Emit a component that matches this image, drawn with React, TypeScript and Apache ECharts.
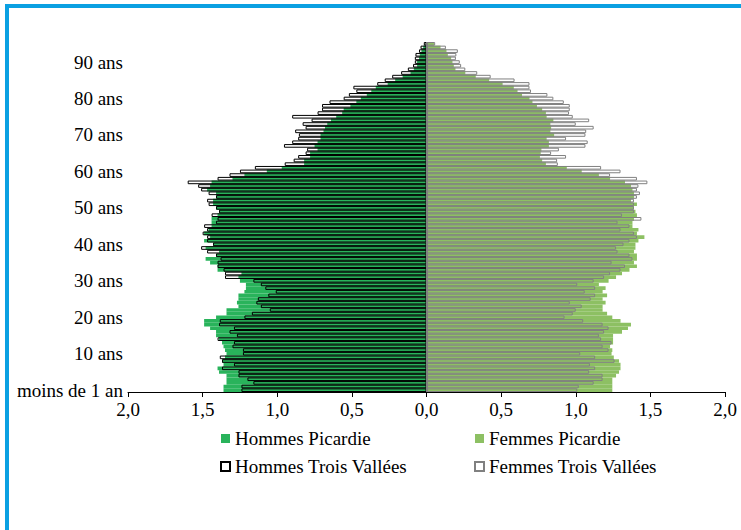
import React, { useEffect, useRef } from "react";
import * as echarts from "echarts";

// Ages 0..95 (category axis, bottom to top)
const ages: string[] = [
  "0","1","2","3","4","5","6","7","8","9",
  "10","11","12","13","14","15","16","17","18","19",
  "20","21","22","23","24","25","26","27","28","29",
  "30","31","32","33","34","35","36","37","38","39",
  "40","41","42","43","44","45","46","47","48","49",
  "50","51","52","53","54","55","56","57","58","59",
  "60","61","62","63","64","65","66","67","68","69",
  "70","71","72","73","74","75","76","77","78","79",
  "80","81","82","83","84","85","86","87","88","89",
  "90","91","92","93","94","95",
];

const tickLabels: string[] = [
  "moins de 1 an", "10 ans", "20 ans", "30 ans", "40 ans",
  "50 ans", "60 ans", "70 ans", "80 ans", "90 ans",
];

const xTickLabels: string[] = ["2,0", "1,5", "1,0", "0,5", "0,0", "0,5", "1,0", "1,5", "2,0"];

// Share of population (%) by single year of age, age 0 .. 95
const hommesPicardie: number[] = [
  1.36, 1.36, 1.34, 1.34, 1.34, 1.39, 1.40, 1.36, 1.37, 1.35,
  1.34, 1.35, 1.36, 1.37, 1.39, 1.41, 1.41, 1.45, 1.49, 1.49,
  1.41, 1.34, 1.34, 1.26, 1.27, 1.26, 1.26, 1.22, 1.21, 1.21,
  1.25, 1.26, 1.24, 1.40, 1.40, 1.45, 1.48, 1.41, 1.39, 1.48,
  1.43, 1.49, 1.45, 1.49, 1.46, 1.44, 1.44, 1.44, 1.40, 1.39,
  1.41, 1.43, 1.43, 1.41, 1.41, 1.47, 1.45, 1.44, 1.30, 1.22,
  1.07, 0.97, 0.82, 0.82, 0.78, 0.78, 0.73, 0.75, 0.73, 0.71,
  0.71, 0.69, 0.68, 0.665, 0.64, 0.605, 0.565, 0.555, 0.51, 0.47,
  0.44, 0.40, 0.37, 0.34, 0.26, 0.21, 0.16, 0.107, 0.085, 0.063,
  0.063, 0.05, 0.045, 0.034, 0.022, 0.005,
];

const femmesPicardie: number[] = [
  1.245, 1.245, 1.245, 1.245, 1.27, 1.29, 1.30, 1.30, 1.29, 1.255,
  1.24, 1.245, 1.23, 1.25, 1.25, 1.25, 1.31, 1.35, 1.37, 1.30,
  1.245, 1.21, 1.18, 1.18, 1.20, 1.18, 1.21, 1.18, 1.20, 1.155,
  1.22, 1.27, 1.31, 1.36, 1.41, 1.39, 1.41, 1.41, 1.39, 1.40,
  1.40, 1.42, 1.46, 1.41, 1.42, 1.38, 1.38, 1.39, 1.41, 1.40,
  1.39, 1.41, 1.37, 1.39, 1.39, 1.38, 1.37, 1.33, 1.23, 1.155,
  1.04, 0.94, 0.80, 0.775, 0.76, 0.765, 0.77, 0.82, 0.82, 0.805,
  0.855, 0.83, 0.835, 0.83, 0.85, 0.805, 0.80, 0.775, 0.74, 0.71,
  0.69, 0.64, 0.61, 0.585, 0.51, 0.42, 0.33, 0.26, 0.194, 0.183,
  0.174, 0.165, 0.143, 0.134, 0.094, 0.05,
];

const hommesTroisVallees: number[] = [
  1.24, 1.24, 1.16, 1.20, 1.26, 1.26, 1.37, 1.29, 1.37, 1.385,
  1.23, 1.23, 1.30, 1.29, 1.40, 1.27, 1.32, 1.29, 1.39, 1.385,
  1.22, 1.17, 1.05, 1.11, 1.14, 1.13, 1.06, 1.01, 1.08, 1.11,
  1.16, 1.35, 1.35, 1.36, 1.40, 1.40, 1.38, 1.41, 1.47, 1.51,
  1.43, 1.47, 1.47, 1.50, 1.47, 1.49, 1.41, 1.40, 1.44, 1.39,
  1.41, 1.46, 1.47, 1.41, 1.46, 1.51, 1.53, 1.60, 1.40, 1.32,
  1.25, 1.15, 0.95, 0.89, 0.86, 0.81, 0.80, 0.955, 0.90, 0.86,
  0.855, 0.88, 0.81, 0.83, 0.77, 0.90, 0.73, 0.70, 0.70, 0.65,
  0.555, 0.52, 0.47, 0.49, 0.33, 0.28, 0.23, 0.17, 0.125, 0.09,
  0.078, 0.078, 0.074, 0.05, 0.04, 0.018,
];

const femmesTroisVallees: number[] = [
  1.01, 1.02, 1.12, 1.18, 1.18, 1.09, 1.13, 1.095, 1.26, 1.13,
  1.03, 1.22, 1.18, 1.24, 1.17, 1.155, 1.19, 1.22, 1.18, 1.05,
  0.925, 0.98, 1.0, 1.04, 0.96, 1.10, 1.13, 1.06, 1.13, 1.01,
  1.12, 1.19, 1.23, 1.30, 1.33, 1.24, 1.38, 1.36, 1.28, 1.27,
  1.32, 1.36, 1.41, 1.39, 1.30, 1.36, 1.28, 1.44, 1.31, 1.39,
  1.39, 1.39, 1.39, 1.41, 1.43, 1.41, 1.42, 1.48, 1.41, 1.23,
  1.30, 1.17, 0.88, 0.875, 0.935, 0.835, 0.887, 1.065, 1.08, 0.935,
  1.065, 1.07, 1.12, 1.0, 1.09, 0.98, 0.955, 0.96, 0.96, 0.92,
  0.85, 0.81, 0.70, 0.69, 0.69, 0.59, 0.43, 0.34, 0.26, 0.232,
  0.223, 0.197, 0.20, 0.21, 0.13, 0.058,
];

const FONT = "Liberation Serif";
const GREEN_M = "#29b35b";
const GREEN_F = "#8dc063";
const BLUE = "#0aa0e2";

export default function App() {
  const ref = useRef<HTMLDivElement>(null);

  useEffect(() => {
    if (!ref.current) return;
    const chart = echarts.init(ref.current, null, { renderer: "svg" });
    const legendText = { fontSize: 19, color: "#000", fontFamily: FONT, lineHeight: 19 };
    chart.setOption({
      animation: false,
      backgroundColor: "#ffffff",
      textStyle: { fontFamily: FONT },
      grid: { left: 128, right: 16, top: 42, bottom: 138, containLabel: false },
      xAxis: {
        type: "value",
        min: -2,
        max: 2,
        interval: 0.5,
        axisLine: { show: true, onZero: false, lineStyle: { color: "#000", width: 1 } },
        axisTick: { show: true, length: 5, lineStyle: { color: "#000", width: 1 } },
        splitLine: { show: false },
        axisLabel: {
          fontSize: 19,
          color: "#000",
          fontFamily: FONT,
          margin: 8,
          formatter: (v: number) => xTickLabels[Math.round((v + 2) / 0.5)] ?? "",
        },
      },
      yAxis: {
        type: "category",
        data: ages,
        axisLine: { show: false },
        axisTick: { show: false },
        axisLabel: {
          fontSize: 19,
          color: "#000",
          fontFamily: FONT,
          margin: 5,
          interval: (index: number) => index % 10 === 0,
          formatter: (value: string) => tickLabels[Number(value) / 10] ?? "",
        },
      },
      legend: [
        {
          orient: "vertical",
          left: 220,
          top: 429,
          padding: 0,
          itemWidth: 9,
          itemHeight: 9,
          itemGap: 9,
          textStyle: legendText,
          data: [
            { name: "Hommes Picardie", icon: "rect", itemStyle: { color: GREEN_M, borderWidth: 0 } },
            { name: "Hommes Trois Vallées", icon: "rect", itemStyle: { color: "#fff", borderColor: "#000", borderWidth: 2 } },
          ],
        },
        {
          orient: "vertical",
          left: 474,
          top: 429,
          padding: 0,
          itemWidth: 9,
          itemHeight: 9,
          itemGap: 9,
          textStyle: legendText,
          data: [
            { name: "Femmes Picardie", icon: "rect", itemStyle: { color: GREEN_F, borderWidth: 0 } },
            { name: "Femmes Trois Vallées", icon: "rect", itemStyle: { color: "#fff", borderColor: "#808080", borderWidth: 2 } },
          ],
        },
      ],
      graphic: [
        { type: "rect", shape: { x: 5, y: 4, width: 736, height: 4 }, style: { fill: BLUE }, z: 100 },
        { type: "rect", shape: { x: 5, y: 4, width: 4, height: 526 }, style: { fill: BLUE }, z: 100 },
      ],
      series: [
        {
          name: "Hommes Picardie",
          type: "bar",
          data: hommesPicardie.map((v) => -v),
          barGap: "-100%",
          barCategoryGap: 0,
          itemStyle: { color: GREEN_M },
          z: 1,
        },
        {
          name: "Femmes Picardie",
          type: "bar",
          data: femmesPicardie,
          barGap: "-100%",
          barCategoryGap: 0,
          itemStyle: { color: GREEN_F },
          z: 1,
        },
        {
          name: "Hommes Trois Vallées",
          type: "bar",
          data: hommesTroisVallees.map((v) => -v),
          barGap: "-100%",
          barCategoryGap: 0,
          itemStyle: { color: "rgba(0,0,0,0)", borderColor: "#000", borderWidth: 1 },
          z: 3,
        },
        {
          name: "Femmes Trois Vallées",
          type: "bar",
          data: femmesTroisVallees,
          barGap: "-100%",
          barCategoryGap: 0,
          itemStyle: { color: "rgba(0,0,0,0)", borderColor: "#808080", borderWidth: 1 },
          z: 3,
          markLine: {
            silent: true,
            symbol: "none",
            label: { show: false },
            lineStyle: { color: "#808080", width: 2, type: "solid" },
            data: [{ xAxis: 0 }],
          },
        },
      ],
    });
    return () => {
      chart.dispose();
    };
  }, []);

  return (
    <div
      ref={ref}
      style={{ position: "fixed", left: 0, top: 0, width: 741, height: 530, background: "#fff" }}
    />
  );
}
